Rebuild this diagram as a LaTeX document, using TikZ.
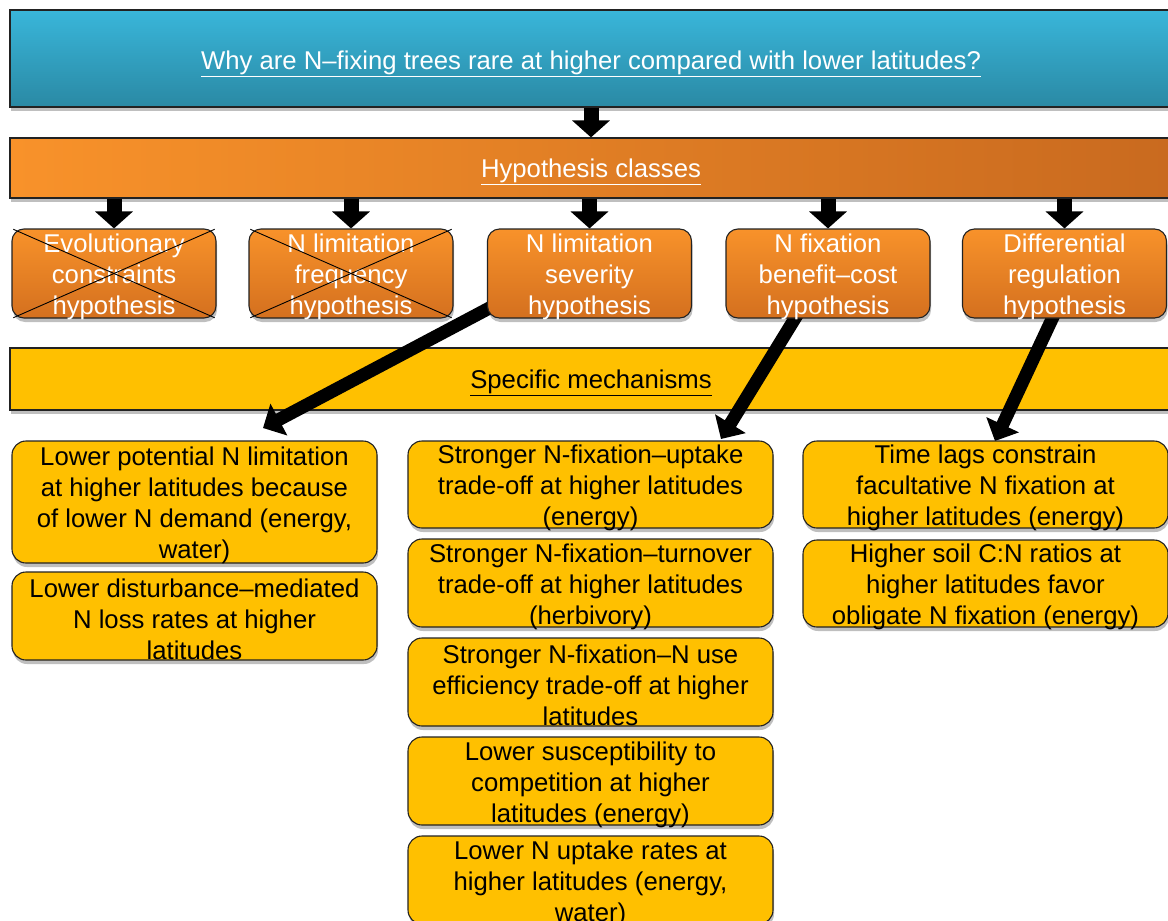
\documentclass[tikz,border=0pt]{standalone}
\usepackage{fontspec}
\setmainfont{Liberation Sans}
\usetikzlibrary{arrows.meta,shadows}
\definecolor{bluetop}{HTML}{39B6DA}
\definecolor{bluebot}{HTML}{2A89A4}
\definecolor{orangeL}{HTML}{F8922A}
\definecolor{orangeR}{HTML}{C96A1F}
\definecolor{orangeB}{HTML}{D4701F}
\definecolor{gold}{HTML}{FFC000}
\definecolor{edge}{HTML}{222222}
\begin{document}
\begin{tikzpicture}[x=1pt,y=-1pt,
  txt/.style={font=\fontsize{25.7}{31}\selectfont, align=center, inner sep=0pt, yshift=-3.5pt},
  wtxt/.style={txt, text=white},
  shad/.style={drop shadow={shadow xshift=1pt,shadow yshift=-4pt,opacity=0.25,fill=black}},
  banner/.style={draw=edge, line width=1.2pt, shad, minimum width=1162pt},
  hypbox/.style={draw=edge, line width=1.1pt, rounded corners=12pt,
     top color=orangeL, bottom color=orangeB, shad, minimum width=204pt, minimum height=89pt},
  mechbox/.style={draw=edge, line width=1.1pt, rounded corners=14pt, fill=gold, shad,
     minimum width=365pt},
  blockarrow/.style={line width=15pt, -{Triangle[width=37pt,length=17pt]}},
  bigarrow/.style={line width=13pt, -{Triangle[width=35pt,length=18pt]}},
  cross/.style={draw=black, line width=0.9pt, shorten <=2pt, shorten >=2pt}
]
\clip (0,0) rectangle (1168,921);
\fill[white] (0,0) rectangle (1168,921);

% top question
\node[banner, minimum height=97pt, top color=bluetop, bottom color=bluebot,
  label={[wtxt, yshift=-1.5pt]center:{\underline{Why are N–fixing trees rare at higher compared with lower latitudes?}}}]
  (q) at (591,58.5) {};

% hypothesis classes bar
\node[banner, minimum height=60pt, left color=orangeL, right color=orangeR,
  label={[wtxt]center:{\underline{Hypothesis classes}}}]
  (hc) at (591,168) {};

% specific mechanisms bar
\node[banner, minimum height=62pt, fill=gold,
  label={[txt]center:{\underline{Specific mechanisms}}}]
  (sm) at (591,379) {};

% arrow question -> classes
\draw[blockarrow] (q.south) -- (hc.north);

% big diagonal arrows (coordinates), drawn beneath the hypothesis boxes
\coordinate (a1s) at (497,304);
\coordinate (a1e) at (263,428);
\coordinate (a2s) at (805,302);
\coordinate (a2e) at (721,439);
\coordinate (a3s) at (1060,302);
\coordinate (a3e) at (995,441);
\draw[bigarrow] (a1s) -- (a1e);
\draw[bigarrow] (a2s) -- (a2e);
\draw[bigarrow] (a3s) -- (a3e);

% hypothesis boxes
\node[hypbox, label={[wtxt]center:{Evolutionary\\constraints\\hypothesis}}] (h1) at (114,273.5) {};
\node[hypbox, label={[wtxt]center:{N limitation\\frequency\\hypothesis}}] (h2) at (351,273.5) {};
\node[hypbox, label={[wtxt]center:{N limitation\\severity\\hypothesis}}] (h3) at (589.5,273.5) {};
\node[hypbox, label={[wtxt]center:{N fixation\\benefit–cost\\hypothesis}}] (h4) at (828,273.5) {};
\node[hypbox, label={[wtxt]center:{Differential\\regulation\\hypothesis}}] (h5) at (1064.5,273.5) {};

\draw[cross] (h1.north west) -- (h1.south east);
\draw[cross] (h1.south west) -- (h1.north east);
\draw[cross] (h2.north west) -- (h2.south east);
\draw[cross] (h2.south west) -- (h2.north east);

\foreach \b in {h1,h2,h3,h4,h5}
  \draw[blockarrow] (hc.south -| \b.north) -- (\b.north);

% mechanisms: left column
\node[mechbox, minimum height=122pt,
  label={[txt]center:{Lower potential N limitation\\at higher latitudes because\\of lower N demand (energy,\\water)}}]
  (l1) at (194.5,502) {};
\node[mechbox, minimum height=88pt,
  label={[txt]center:{Lower disturbance–mediated\\N loss rates at higher\\latitudes}}]
  (l2) at (194.5,616) {};

% middle column
\node[mechbox, minimum height=87pt,
  label={[txt]center:{Stronger N-fixation–uptake\\trade-off at higher latitudes\\(energy)}}]
  (m1) at (590.5,484.5) {};
\node[mechbox, minimum height=88pt,
  label={[txt]center:{Stronger N-fixation–turnover\\trade-off at higher latitudes\\(herbivory)}}]
  (m2) at (590.5,583) {};
\node[mechbox, minimum height=88pt,
  label={[txt]center:{Stronger N-fixation–N use\\efficiency trade-off at higher\\latitudes}}]
  (m3) at (590.5,682) {};
\node[mechbox, minimum height=88pt,
  label={[txt]center:{Lower susceptibility to\\competition at higher\\latitudes (energy)}}]
  (m4) at (590.5,781) {};
\node[mechbox, minimum height=88pt,
  label={[txt]center:{Lower N uptake rates at\\higher latitudes (energy,\\water)}}]
  (m5) at (590.5,880) {};

% right column
\node[mechbox, minimum height=87pt,
  label={[txt]center:{Time lags constrain\\facultative N fixation at\\higher latitudes (energy)}}]
  (r1) at (985.5,484.5) {};
\node[mechbox, minimum height=87pt,
  label={[txt]center:{Higher soil C:N ratios at\\higher latitudes favor\\obligate N fixation (energy)}}]
  (r2) at (985.5,583.5) {};
\end{tikzpicture}
\end{document}
